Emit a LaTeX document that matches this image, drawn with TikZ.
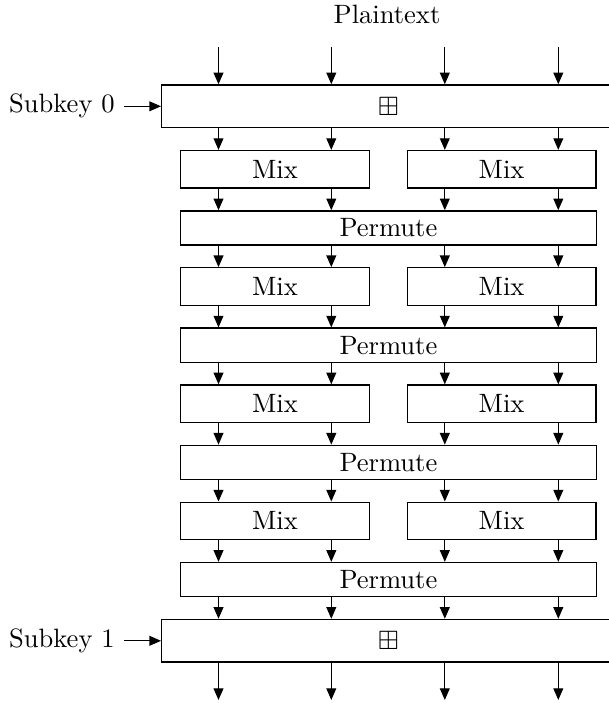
\documentclass[tikz,border=0pt]{standalone}
\usepackage{amssymb}
\usetikzlibrary{arrows.meta}
\begin{document}
\begin{tikzpicture}[x=0.3766pt,y=-0.3766pt,
  box/.style={draw, rectangle, inner sep=0pt, line width=0.5pt},
  mixbox/.style={box, minimum width=188.6*0.3766pt, minimum height=37.4*0.3766pt},
  permbox/.style={box, minimum width=415.6*0.3766pt, minimum height=34.2*0.3766pt},
  keybox/.style={box, minimum width=453.4*0.3766pt, minimum height=42.7*0.3766pt},
  arr/.style={-{Triangle[length=4.4pt,width=3.7pt]}, line width=0.5pt}]
\useasboundingbox (0,0) rectangle (608,703);

\node[anchor=base] (pt) at (387,24) {Plaintext};

\coordinate (c1) at (218.5,47.3);
\coordinate (c2) at (331.3,47.3);
\coordinate (c3) at (444.8,47.3);
\coordinate (c4) at (558.3,47.3);
\coordinate (b1) at (218.5,700);
\coordinate (b2) at (331.3,700);
\coordinate (b3) at (444.8,700);
\coordinate (b4) at (558.3,700);

\node[keybox] (key0) at (388.4,106.3) {$\boxplus$};
\node[keybox] (key1) at (388.4,640.8) {$\boxplus$};

\node[anchor=east] (sk0) at (124,106.3) {Subkey 0};
\node[anchor=east] (sk1) at (124,640.8) {Subkey 1};
\draw[arr] (sk0.east) -- (key0.west);
\draw[arr] (sk1.east) -- (key1.west);

\foreach \i in {1,...,4} {
  \pgfmathsetmacro\ym{169.3+117.2*(\i-1)}
  \pgfmathsetmacro\yp{228+117.2*(\i-1)}
  \node[mixbox] (mixL\i) at (274.9,\ym) {Mix};
  \node[mixbox] (mixR\i) at (501.6,\ym) {Mix};
  \node[permbox] (perm\i) at (388.4,\yp) {Permute};
}

\foreach \c/\m in {1/mixL,2/mixL,3/mixR,4/mixR} {
  \draw[arr] (c\c) -- (key0.north -| c\c);
  \draw[arr] (key0.south -| c\c) -- (\m1.north -| c\c);
  \draw[arr] (\m1.south -| c\c) -- (perm1.north -| c\c);
  \draw[arr] (perm1.south -| c\c) -- (\m2.north -| c\c);
  \draw[arr] (\m2.south -| c\c) -- (perm2.north -| c\c);
  \draw[arr] (perm2.south -| c\c) -- (\m3.north -| c\c);
  \draw[arr] (\m3.south -| c\c) -- (perm3.north -| c\c);
  \draw[arr] (perm3.south -| c\c) -- (\m4.north -| c\c);
  \draw[arr] (\m4.south -| c\c) -- (perm4.north -| c\c);
  \draw[arr] (perm4.south -| c\c) -- (key1.north -| c\c);
  \draw[arr] (key1.south -| c\c) -- (b\c);
}
\end{tikzpicture}
\end{document}
